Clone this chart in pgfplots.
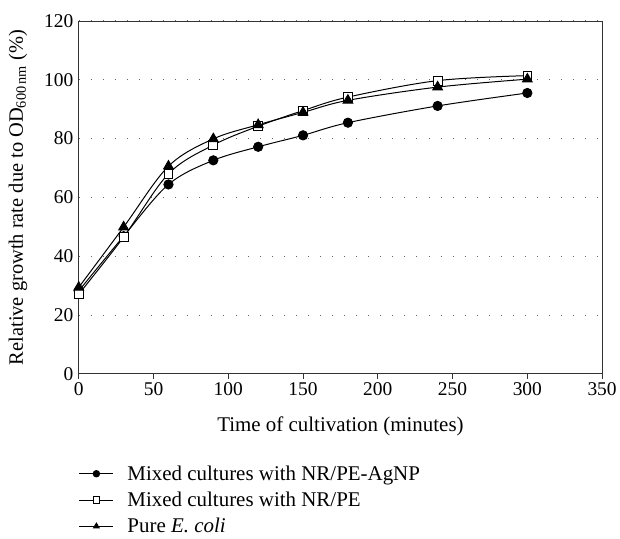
\documentclass[border=0pt]{standalone}
\usepackage{fontspec}
\setmainfont{Liberation Serif}
\usepackage{pgfplots}
\pgfplotsset{compat=1.18}

\pgfplotstableread{
x   agnp   pe     ecoli
0   28.2   27.1   29.4
30  46.8   46.5   49.9
60  64.4   68.0   70.6
90  72.6   77.8   79.9
120 77.2   84.2   84.7
150 81.1   89.5   88.9
180 85.4   94.1   93.0
240 91.1   99.7   97.5
300 95.5   101.4  100.2
}\growth

\begin{document}
\begin{tikzpicture}[x=1pt,y=1pt]
\begin{axis}[
  scale only axis,
  width=525pt, height=354pt,
  xmin=0, xmax=350, ymin=0, ymax=120,
  xtick={0,50,...,350},
  ytick={0,20,...,120},
  axis line style={draw=black!80, line width=0.8pt},
  major tick length=5pt,
  xtick style={draw=black!80, line width=0.8pt},
  ytick style={draw=none},
  tick align=outside,
  xtick pos=bottom, ytick pos=left,
  ymajorgrids,
  major grid style={draw=black!60, line width=0.9pt, dash pattern=on 0.9pt off 11.2pt},
  /pgf/number format/assume math mode=true,
  tick label style={font=\fontsize{19.5}{21}\selectfont},
  yticklabel style={xshift=3pt},
  xlabel={Time of cultivation (minutes)},
  ylabel={Relative growth rate due to OD\textsubscript{600\,nm} (\%)},
  every axis x label/.style={at={(rel axis cs:0.5,0)}, yshift=-53pt, anchor=center,
    font=\fontsize{21}{23}\selectfont},
  every axis y label/.style={at={(rel axis cs:0,0.5)}, xshift=-61pt, rotate=90, anchor=center,
    font=\fontsize{20.5}{22}\selectfont},
  legend cell align=left,
  legend style={draw=none, fill=none, at={(0,-0.2486)}, anchor=north west,
    xshift=-3pt,
    font=\fontsize{21}{23}\selectfont, row sep=6.3pt,
    /tikz/every odd column/.append style={column sep=11.7pt}},
  legend image code/.code={
    \draw[mark repeat=2, mark phase=2, #1, mark size=3.2pt]
      plot coordinates {(0pt,0pt) (17pt,0pt) (34pt,0pt)};
  },
  every axis plot/.append style={black, line width=1.0pt, smooth, tension=0.55},
]
\addplot[mark=*, mark size=4.6pt] table[x=x, y=agnp] {\growth};
\addlegendentry{Mixed cultures with NR/PE-AgNP}
\addplot[mark=square*, mark options={fill=white, line width=0.9pt}, mark size=4.4pt] table[x=x, y=pe] {\growth};
\addlegendentry{Mixed cultures with NR/PE}
\addplot[mark=triangle*, mark size=5.6pt] table[x=x, y=ecoli] {\growth};
\addlegendentry{Pure \textit{E. coli}}
\end{axis}
% page margins around the axis box, as in the reference
\path ([xshift=-79pt,yshift=21pt]current axis.north west);
\path ([xshift=16pt]current axis.north east);
\end{tikzpicture}
\end{document}
